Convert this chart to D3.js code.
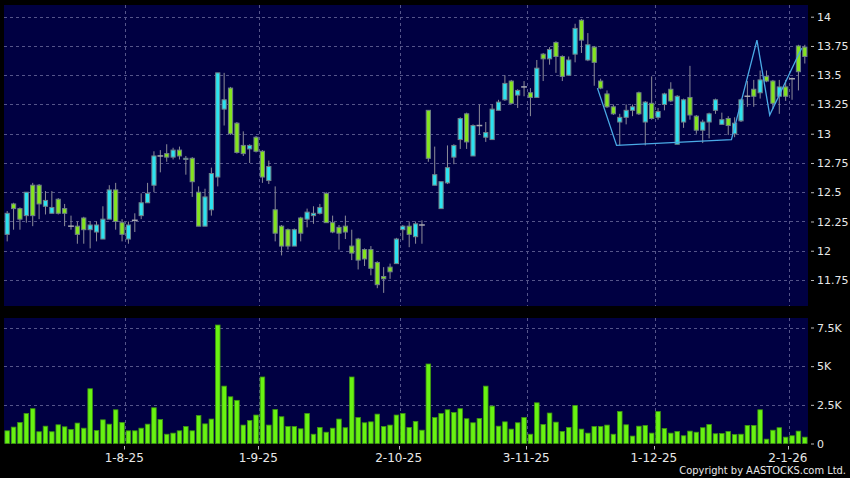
<!DOCTYPE html>
<html><head><meta charset="utf-8">
<script src="https://cdn.jsdelivr.net/npm/d3@7"></script>
<style>html,body{margin:0;padding:0;background:#000;}svg{display:block;}</style>
</head><body>
<script>
const dates = ["7-7-25","8-7-25","9-7-25","10-7-25","11-7-25","14-7-25","15-7-25","16-7-25","17-7-25","18-7-25","21-7-25","22-7-25","23-7-25","24-7-25","25-7-25","28-7-25","29-7-25","30-7-25","31-7-25",
"1-8-25","4-8-25","5-8-25","6-8-25","7-8-25","8-8-25","11-8-25","12-8-25","13-8-25","14-8-25","15-8-25","18-8-25","19-8-25","20-8-25","21-8-25","22-8-25","25-8-25","26-8-25","27-8-25","28-8-25","29-8-25",
"1-9-25","2-9-25","3-9-25","4-9-25","5-9-25","8-9-25","9-9-25","10-9-25","11-9-25","12-9-25","15-9-25","16-9-25","17-9-25","18-9-25","19-9-25","22-9-25","23-9-25","24-9-25","25-9-25","26-9-25","29-9-25","30-9-25",
"2-10-25","3-10-25","6-10-25","8-10-25","9-10-25","10-10-25","13-10-25","14-10-25","15-10-25","16-10-25","17-10-25","20-10-25","21-10-25","22-10-25","23-10-25","24-10-25","27-10-25","28-10-25","30-10-25","31-10-25",
"3-11-25","4-11-25","5-11-25","6-11-25","7-11-25","10-11-25","11-11-25","12-11-25","13-11-25","14-11-25","17-11-25","18-11-25","19-11-25","20-11-25","21-11-25","24-11-25","25-11-25","26-11-25","27-11-25","28-11-25",
"1-12-25","2-12-25","3-12-25","4-12-25","5-12-25","8-12-25","9-12-25","10-12-25","11-12-25","12-12-25","15-12-25","16-12-25","17-12-25","18-12-25","19-12-25","22-12-25","23-12-25","24-12-25","29-12-25","30-12-25","31-12-25",
"2-1-26","5-1-26","6-1-26"];

const open = [12.14,12.40,12.36,12.30,12.56,12.56,12.38,12.32,12.44,12.36,12.21,12.21,12.28,12.18,12.16,12.10,12.27,12.52,12.24,12.10,
12.26,12.30,12.41,12.56,12.81,12.83,12.80,12.86,12.78,12.79,12.50,12.21,12.35,12.63,13.21,13.39,13.09,12.90,12.87,12.97,
12.85,12.60,12.35,12.21,12.18,12.04,12.28,12.27,12.30,12.32,12.49,12.24,12.20,12.21,12.04,12.10,12.01,12.01,11.90,11.78,
11.86,11.89,12.18,12.21,12.12,12.22,13.20,12.56,12.36,12.58,12.80,12.95,13.17,12.81,13.07,12.97,12.95,13.20,13.29,13.45,
13.33,13.40,13.35,13.31,13.68,13.64,13.78,13.66,13.50,13.68,13.97,13.63,13.74,13.45,13.34,13.23,13.10,13.14,13.20,13.35,
13.10,13.26,13.14,13.25,13.38,12.91,13.10,13.31,13.15,13.03,13.10,13.20,13.08,13.13,13.00,13.11,13.32,13.38,13.35,13.49,
13.45,13.32,13.40,13.47,13.75,13.74];
const high = [12.34,12.41,12.37,12.50,12.58,12.57,12.51,12.51,12.45,12.40,12.30,12.25,12.29,12.25,12.25,12.38,12.56,12.58,12.27,12.25,
12.32,12.49,12.58,12.85,12.86,12.91,12.88,12.89,12.81,12.80,12.55,12.53,12.71,13.52,13.52,13.40,13.10,13.02,12.91,12.98,
12.86,12.77,12.55,12.22,12.19,12.19,12.29,12.36,12.38,12.40,12.50,12.30,12.22,12.30,12.18,12.11,12.02,12.04,11.91,11.86,
11.89,12.11,12.22,12.25,12.25,12.26,13.20,12.89,12.59,12.90,12.91,13.14,13.18,13.08,13.25,13.10,13.25,13.29,13.50,13.46,
13.38,13.45,13.39,13.63,13.69,13.74,13.79,13.67,13.66,13.94,13.98,13.86,13.75,13.47,13.37,13.25,13.17,13.25,13.25,13.36,
13.28,13.49,13.22,13.35,13.44,13.33,13.30,13.58,13.16,13.12,13.18,13.30,13.18,13.15,13.14,13.30,13.45,13.46,13.54,13.54,
13.46,13.46,13.46,13.48,13.76,13.76];
const low = [12.08,12.18,12.18,12.24,12.21,12.27,12.31,12.32,12.31,12.21,12.18,12.06,12.06,12.02,12.08,12.10,12.27,12.18,12.08,12.06,
12.16,12.27,12.41,12.50,12.67,12.76,12.78,12.78,12.65,12.46,12.21,12.21,12.30,12.55,13.07,12.99,12.83,12.81,12.75,12.84,
12.58,12.57,12.08,11.96,12.01,12.04,12.08,12.20,12.23,12.31,12.24,12.15,12.01,12.10,11.92,11.84,11.87,11.79,11.68,11.64,
11.76,11.89,12.09,12.03,12.06,12.06,12.76,12.56,12.36,12.57,12.74,12.87,12.87,12.81,12.99,12.93,12.95,13.20,13.28,13.25,
13.22,13.32,13.15,13.31,13.45,13.59,13.52,13.45,13.50,13.61,13.69,13.62,13.41,13.38,13.22,13.16,12.90,13.08,13.15,13.16,
12.90,13.12,13.12,13.20,13.27,12.91,13.05,13.12,13.00,12.92,12.96,13.17,13.08,12.99,12.97,13.10,13.23,13.23,13.30,13.44,
13.21,13.17,13.28,13.29,13.37,13.60];
const close = [12.32,12.36,12.27,12.50,12.30,12.40,12.43,12.37,12.32,12.32,12.21,12.14,12.18,12.22,12.22,12.27,12.52,12.25,12.14,12.22,
12.26,12.41,12.49,12.81,12.81,12.80,12.86,12.81,12.79,12.59,12.21,12.46,12.66,13.52,13.29,13.00,12.84,12.83,12.90,12.85,
12.63,12.72,12.15,12.04,12.04,12.18,12.15,12.33,12.32,12.37,12.24,12.16,12.15,12.16,11.98,11.92,11.93,11.85,11.71,11.76,
11.82,12.10,12.21,12.14,12.23,12.22,12.79,12.65,12.59,12.71,12.90,13.13,12.93,13.07,13.07,13.01,13.21,13.27,13.43,13.26,
13.37,13.40,13.31,13.56,13.64,13.72,13.66,13.49,13.63,13.90,13.80,13.76,13.61,13.39,13.23,13.17,13.14,13.20,13.23,13.17,
13.27,13.13,13.19,13.34,13.28,13.32,13.29,13.16,13.03,13.10,13.17,13.29,13.12,13.07,13.09,13.29,13.32,13.32,13.46,13.45,
13.26,13.40,13.32,13.47,13.53,13.66];
const volume = [820,1060,1360,1940,2250,760,1120,760,1210,1080,910,1320,990,3540,840,1530,1250,2180,1360,820,
820,990,1250,2310,1550,600,670,820,1100,820,1810,1270,1580,7660,3710,3020,2790,1190,1490,1840,
4300,1190,2200,1730,1100,1100,950,1940,600,1040,730,990,1580,1020,4300,1680,1340,1400,1900,1100,
1190,1840,1940,1040,1430,860,5140,1680,1940,2180,2010,2250,1600,1340,1620,3710,2420,1120,1400,930,
1340,1680,600,2630,1230,1970,1380,780,1040,2460,930,670,1100,1100,1190,600,2070,1210,480,1120,
1170,670,2070,970,670,780,500,800,730,1020,1230,630,650,780,580,600,1170,1170,2180,280,
860,1020,410,500,800,410];

const priceTicks = [11.75,12,12.25,12.5,12.75,13,13.25,13.5,13.75,14];
const volumeTicks = [0,2500,5000,7500];
const dateTicks = ["1-8-25","1-9-25","2-10-25","3-11-25","1-12-25","2-1-26"];
const patternDates = ["18-11-25","21-11-25","17-12-25","23-12-25","29-12-25","6-1-26"];
const patternPrices = [13.39,12.90,12.95,13.80,13.16,13.73];

const W = 850, H = 478;
const svg = d3.select("body").append("svg").attr("width", W).attr("height", H);
svg.append("rect").attr("width", W).attr("height", H).attr("fill", "#000");

const pLeft = 4, pRight = 808;
const priceTop = 5, priceBottom = 306, volTop = 318, volBottom = 443.5;
const x = d3.scaleBand().domain(dates).range([pLeft, pRight]);
const step = x.step();
const yP = d3.scaleLinear().domain([11.75, 14]).range([280, 16.7]);
const yV = d3.scaleLinear().domain([0, 7500]).range([volBottom, 327.5]);

const FONT = "'DejaVu Sans', Verdana, sans-serif";
const GRID = "#55558a";
const CYAN = "#2ce3f0", GREEN = "#84e41e";

// panels
svg.append("rect").attr("x", pLeft).attr("y", priceTop).attr("width", pRight - pLeft).attr("height", priceBottom - priceTop).attr("fill", "#000042");
svg.append("rect").attr("x", pLeft).attr("y", volTop).attr("width", pRight - pLeft).attr("height", volBottom - volTop).attr("fill", "#000042");

// grids
const g = svg.append("g").attr("stroke", GRID).attr("stroke-dasharray", "3,3").attr("stroke-width", 1);
g.selectAll(".hp").data(priceTicks).join("line")
  .attr("x1", pLeft).attr("x2", pRight)
  .attr("y1", d => Math.round(yP(d)) + 0.5).attr("y2", d => Math.round(yP(d)) + 0.5);
g.selectAll(".hv").data(volumeTicks.filter(v => v > 0)).join("line")
  .attr("x1", pLeft).attr("x2", pRight)
  .attr("y1", d => Math.round(yV(d)) + 0.5).attr("y2", d => Math.round(yV(d)) + 0.5);
dateTicks.forEach(dt => {
  const xx = Math.round(x(dt)) + 0.5;
  g.append("line").attr("x1", xx).attr("x2", xx).attr("y1", priceTop).attr("y2", priceBottom);
  g.append("line").attr("x1", xx).attr("x2", xx).attr("y1", volTop).attr("y2", volBottom);
});

// candles
const data = dates.map((d, i) => ({d, o: open[i], h: high[i], l: low[i], c: close[i], v: volume[i]}));
const cg = svg.append("g");
cg.selectAll(".wick").data(data).join("line")
  .attr("x1", d => x(d.d) + step / 2).attr("x2", d => x(d.d) + step / 2)
  .attr("y1", d => yP(d.h)).attr("y2", d => yP(d.l))
  .attr("stroke", "#8c8c98").attr("stroke-width", 1);
cg.selectAll(".body").data(data.filter(d => d.o !== d.c)).join("rect")
  .attr("x", d => x(d.d) + 1.1).attr("width", step - 2.2)
  .attr("y", d => yP(Math.max(d.o, d.c)))
  .attr("height", d => Math.max(1, Math.abs(yP(d.o) - yP(d.c))))
  .attr("fill", d => d.c > d.o ? CYAN : GREEN)
  .attr("stroke", "#6f8088").attr("stroke-width", 1);
cg.selectAll(".doji").data(data.filter(d => d.o === d.c)).join("line")
  .attr("x1", d => x(d.d) + 0.3).attr("x2", d => x(d.d) + step - 0.3)
  .attr("y1", d => yP(d.c)).attr("y2", d => yP(d.c))
  .attr("stroke", "#a8a8b0").attr("stroke-width", 1.5);

// pattern line
const pat = patternDates.map((d, i) => [x(d), yP(patternPrices[i])]);
svg.append("path").attr("d", d3.line()(pat)).attr("fill", "none")
  .attr("stroke", "#4aaae6").attr("stroke-width", 1.3);

// volume bars
svg.append("g").selectAll("rect").data(data).join("rect")
  .attr("x", d => x(d.d) + 0.9).attr("width", step - 1.8)
  .attr("y", d => yV(d.v)).attr("height", d => yV(0) - yV(d.v))
  .attr("fill", "#68f212").attr("stroke", "#3d9412").attr("stroke-width", 0.8);

// axes
const ax1 = svg.append("g").attr("transform", `translate(811,0)`)
  .call(d3.axisRight(yP).tickValues(priceTicks).tickSize(3).tickPadding(3).tickFormat(d => d3.format("")(d)));
const ax2 = svg.append("g").attr("transform", `translate(811,0)`)
  .call(d3.axisRight(yV).tickValues(volumeTicks).tickSize(3).tickPadding(3).tickFormat(d => d === 0 ? "0" : (d / 1000) + "K"));
[ax1, ax2].forEach(a => {
  a.select(".domain").remove();
  a.selectAll("line").attr("stroke", "#bbb");
  a.selectAll("text").attr("fill", "#e8e8e8").attr("font-family", FONT).attr("font-size", 11);
});

const xg = svg.append("g");
xg.selectAll("line").data(dateTicks).join("line")
  .attr("x1", d => Math.round(x(d)) - 0.5).attr("x2", d => Math.round(x(d)) - 0.5)
  .attr("y1", 446).attr("y2", 449.5).attr("stroke", "#bbb");
xg.selectAll("text").data(dateTicks).join("text")
  .attr("x", d => x(d) - 1).attr("y", 462).attr("text-anchor", "middle")
  .attr("fill", "#e8e8e8").attr("font-family", FONT).attr("font-size", 12).text(d => d);

svg.append("text").attr("x", 846).attr("y", 473.5).attr("fill", "#e8e8e8")
  .attr("text-anchor", "end")
  .attr("font-family", "'DejaVu Sans Condensed', 'Liberation Sans Narrow', 'Liberation Sans', sans-serif")
  .attr("font-size", 11)
  .text("Copyright by AASTOCKS.com Ltd.");
</script>
</body></html>
